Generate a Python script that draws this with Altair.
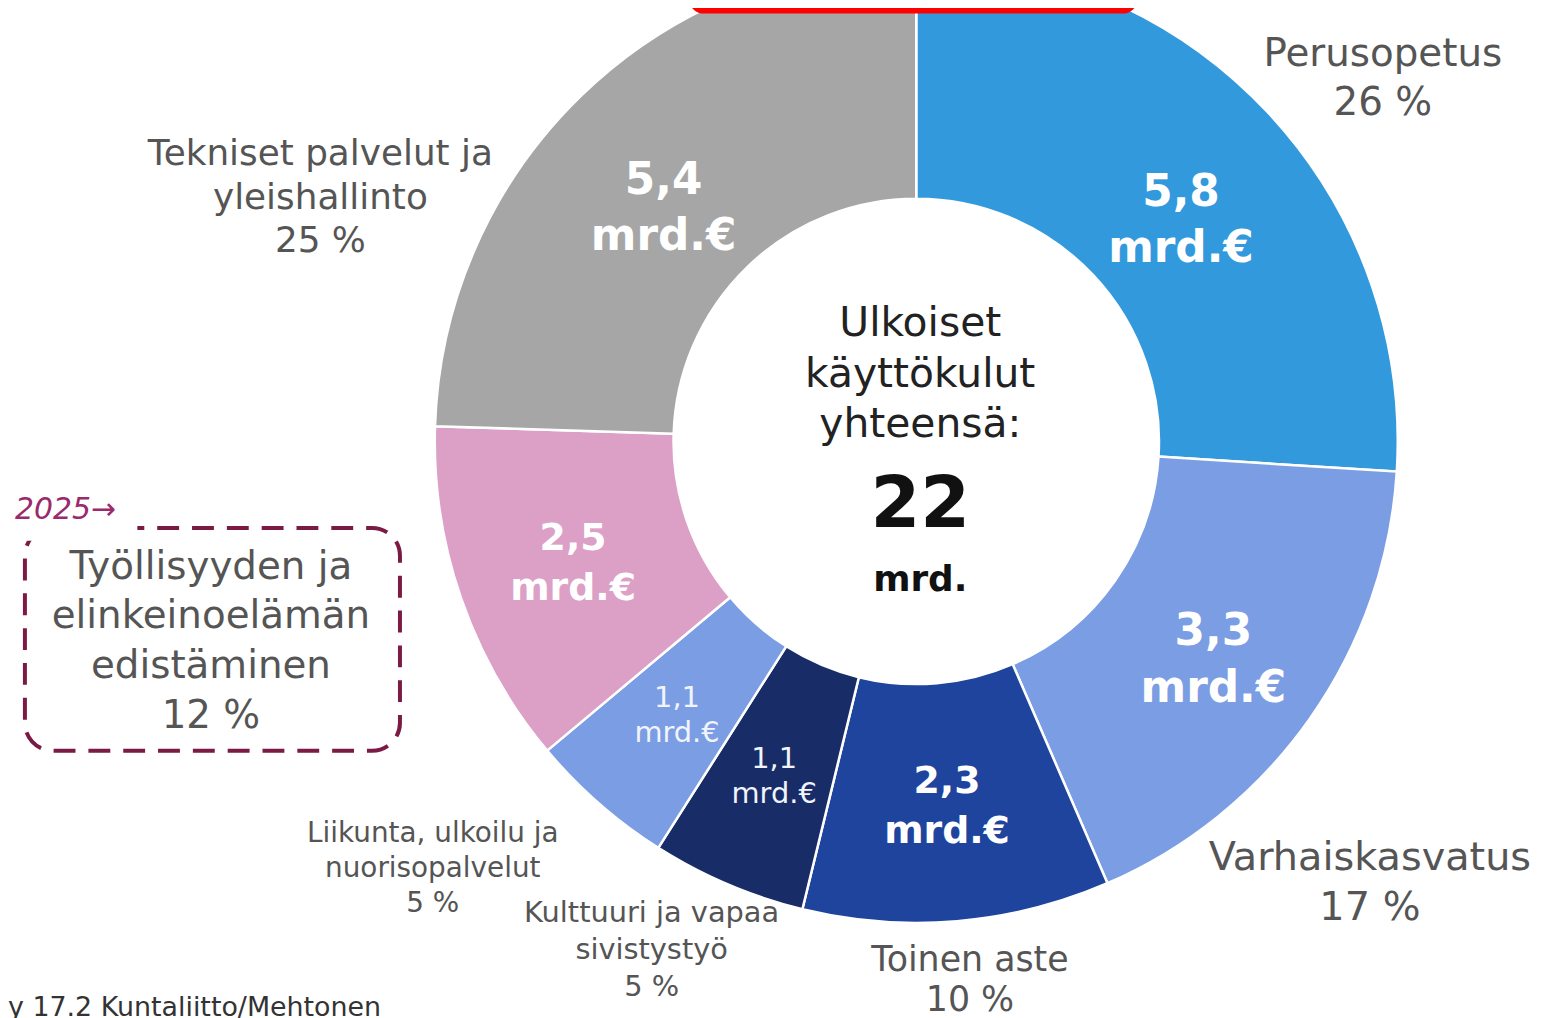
import altair as alt
import pandas as pd

# ---- data ----
categories = [
    "Perusopetus",
    "Varhaiskasvatus",
    "Toinen aste",
    "Kulttuuri ja vapaa sivistystyö",
    "Liikunta, ulkoilu ja nuorisopalvelut",
    "Työllisyyden ja elinkeinoelämän edistäminen",
    "Tekniset palvelut ja yleishallinto",
]
arc_shares = [26.0, 17.5, 10.3, 5.2, 4.9, 11.6, 24.5]   # size of each slice (%)
percent_labels = [26, 17, 10, 5, 5, 12, 25]              # printed percentages
billions = [5.8, 3.3, 2.3, 1.1, 1.1, 2.5, 5.4]           # mrd. €
label_lines = [
    ["Perusopetus"],
    ["Varhaiskasvatus"],
    ["Toinen aste"],
    ["Kulttuuri ja vapaa", "sivistystyö"],
    ["Liikunta, ulkoilu ja", "nuorisopalvelut"],
    ["Työllisyyden ja", "elinkeinoelämän", "edistäminen"],
    ["Tekniset palvelut ja", "yleishallinto"],
]
center_lines = ["Ulkoiset", "käyttökulut", "yhteensä:"]
total_text = "22"
total_unit = "mrd."
year_note = "2025\u2192"
source_note = "y 17.2 Kuntaliitto/Mehtonen"

colors = ["#3399dd", "#7b9de3", "#1f449e", "#182c68", "#7b9de3", "#dca0c7", "#a6a6a6"]

# ---- layout ----
CX, CY = 913, 433
R_OUT, R_IN = 484, 244
W, H = 1541, 1010
FONT = "DejaVu Sans"
LABEL_COLOR = "#555555"


def fmt(v):
    return f"{v:.1f}".replace(".", ",")


vlabels = [fmt(v) + "\nmrd.\u20ac" for v in billions]
df = pd.DataFrame({
    "cat": categories,
    "share": arc_shares,
    "idx": list(range(len(categories))),
    "value": billions,
    "label": vlabels,
})
df["mid"] = df["share"].cumsum() - df["share"] / 2
upper = (df["mid"] < 25) | (df["mid"] > 75)
df["lab_big_up"] = df["label"].where((df["value"] >= 3) & upper, "")
df["lab_big_low"] = df["label"].where((df["value"] >= 3) & ~upper, "")
df["lab_mid"] = df["label"].where((df["value"] >= 2) & (df["value"] < 3), "")
df["lab_small"] = df["label"].where(df["value"] < 2, "")

base = alt.Chart(df).encode(
    theta=alt.Theta("share:Q", stack=True),
    order=alt.Order("idx:Q"),
    x=alt.value(CX),
    y=alt.value(CY),
)

arcs = base.mark_arc(
    outerRadius=R_OUT, innerRadius=R_IN, stroke="white", strokeWidth=2.5
).encode(
    color=alt.Color("cat:N", scale=alt.Scale(domain=categories, range=colors), legend=None)
)


def value_text(col, size, lh, dy, bold=True, color="white"):
    props = dict(radius=365, font=FONT, fontSize=size, lineBreak="\n",
                 lineHeight=lh, color=color, align="center", baseline="middle", dy=dy)
    if bold:
        props["fontWeight"] = "bold"
    return base.mark_text(**props).encode(text=f"{col}:N", detail="cat:N")


vt1 = value_text("lab_big_up", 44, 57, 0)
vt2 = value_text("lab_big_low", 44, 57, -18)
vt3 = value_text("lab_mid", 38, 50, -21)
vt4 = value_text("lab_small", 29, 36, -17, bold=False, color="#f2f4fb")

# outside category labels (annotation placement: x, first-line y, size, line height)
label_pos = [
    (1382, 44, 39, 49),
    (1369, 852, 40, 50),
    (967, 954, 35, 41),
    (647, 907, 29, 37.5),
    (427, 828, 28, 35),
    (204, 559, 39, 50),
    (314, 144, 36, 44),
]


def text_layer(text, x, y, size, lh, **kw):
    d = pd.DataFrame({"t": [text]})
    props = dict(font=FONT, fontSize=size, lineBreak="\n", lineHeight=lh,
                 color=LABEL_COLOR, align="center", baseline="middle")
    props.update(kw)
    return alt.Chart(d).mark_text(**props).encode(
        text="t:N", x=alt.value(x), y=alt.value(y)
    )


outer_labels = []
for lines, p, (x, y, s, lh) in zip(label_lines, percent_labels, label_pos):
    outer_labels.append(text_layer("\n".join(lines + [f"{p} %"]), x, y, s, lh))

one = pd.DataFrame({"a": [0]})

red_bar = alt.Chart(one).mark_rect(color="#ff0000", cornerRadius=14).encode(
    x=alt.value(685), x2=alt.value(1135), y=alt.value(-40), y2=alt.value(3)
)

dashed_box = alt.Chart(one).mark_rect(
    fill="white", fillOpacity=0, stroke="#7a1a45", strokeWidth=4,
    strokeDash=[22, 13], cornerRadius=28,
).encode(x=alt.value(17), x2=alt.value(394), y=alt.value(520), y2=alt.value(744))

cover = alt.Chart(one).mark_rect(color="white").encode(
    x=alt.value(-10), x2=alt.value(130), y=alt.value(480), y2=alt.value(533)
)

year = text_layer(year_note, 7, 502, 30, 34, fontStyle="italic",
                  color="#9a2a6c", align="left")

center = text_layer("\n".join(center_lines), 917, 315, 41, 51, color="#222222")
total = text_layer(total_text, 917, 497, 72, 72, fontWeight="bold", color="#111111")
unit = text_layer(total_unit, 917, 572, 36, 36, fontWeight="bold", color="#111111")

source = text_layer(source_note, 0, 1011, 27, 27, color="#333333",
                    align="left", baseline="alphabetic")

chart = alt.layer(
    arcs, vt1, vt2, vt3, vt4, *outer_labels, red_bar, dashed_box, cover, year,
    center, total, unit, source,
).properties(
    width=W, height=H, autosize="none", padding=0, background="white"
).configure_view(stroke=None)

chart.save("out.html", embed_options={"renderer": "svg", "actions": False})
